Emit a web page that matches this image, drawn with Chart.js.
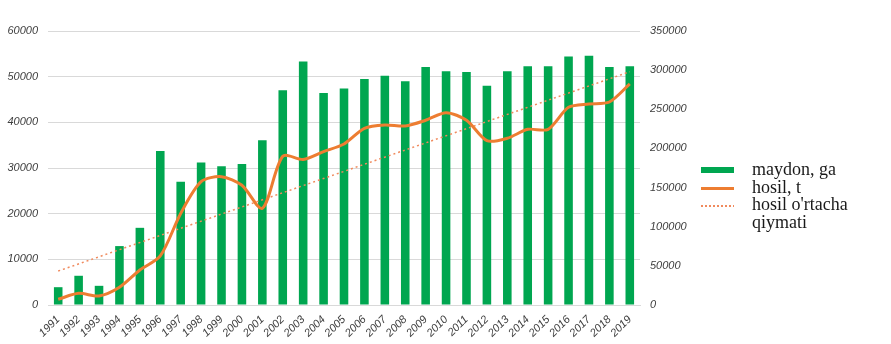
<!DOCTYPE html>
<html>
<head>
<meta charset="utf-8">
<script src="https://cdn.jsdelivr.net/npm/chart.js@4"></script>
<style>
  html, body { margin: 0; padding: 0; background: #fff; }
  #wrap { position: relative; width: 891px; height: 344px; }
  #legend { position: absolute; left: 701px; top: 161px; font-family: "Liberation Serif", serif; font-size: 18px; line-height: 17.5px; color: #1a1a1a; }
  .item { position: relative; padding-left: 51px; }
  .sw { position: absolute; left: 0; width: 33px; }
</style>
</head>
<body>
<div id="wrap">
  <canvas id="chart" width="891" height="344"></canvas>
  <div id="legend">
    <div class="item"><span class="sw" style="top:6px;height:6px;background:#00A650"></span>maydon, ga</div>
    <div class="item"><span class="sw" style="top:8px;height:3px;background:#ED7D31"></span>hosil, t</div>
    <div class="item"><span class="sw" style="top:9px;height:2px;background:repeating-linear-gradient(90deg,#F08A5D 0 2px,transparent 2px 4px)"></span>hosil o'rtacha<br>qiymati</div>
  </div>
</div>
<script>
const years = ["1991","1992","1993","1994","1995","1996","1997","1998","1999","2000",
  "2001","2002","2003","2004","2005","2006","2007","2008","2009","2010",
  "2011","2012","2013","2014","2015","2016","2017","2018","2019"];

// maydon, ga (left axis)
const maydon = [3900, 6400, 4200, 12900, 16900, 33700, 27000, 31200, 30400, 30900,
  36100, 47000, 53300, 46400, 47400, 49500, 50200, 49000, 52100, 51200,
  51000, 48000, 51200, 52300, 52300, 54400, 54600, 52100, 52300];

// hosil, t (right axis)
const hosil = [7300, 14900, 11500, 22600, 44700, 62600, 117000, 157500, 163900, 153000,
  123500, 190000, 186000, 196000, 205700, 225700, 230000, 228700, 236000, 245600,
  236000, 209900, 213000, 224400, 224400, 252500, 256800, 259300, 282300];

// trend line endpoints (1991 and 2019)
const trend = [43400, null, null, null, null, null, null, null, null, null,
  null, null, null, null, null, null, null, null, null, null,
  null, null, null, null, null, null, null, null, 298000];

const leftTicks = { min: 0, max: 60000, step: 10000 };
const rightTicks = { min: 0, max: 350000, step: 50000 };

const tickFont = { family: "Liberation Sans", size: 11, style: "italic" };

new Chart(document.getElementById("chart"), {
  type: "bar",
  data: {
    labels: years,
    datasets: [
      {
        label: "hosil, t",
        type: "line",
        data: hosil,
        yAxisID: "y1",
        borderColor: "#ED7D31",
        borderWidth: 3,
        pointRadius: 0,
        tension: 0.28,
        order: 1
      },
      {
        label: "hosil o'rtacha qiymati",
        type: "line",
        data: trend,
        yAxisID: "y1",
        spanGaps: true,
        borderColor: "#F08A5D",
        borderWidth: 1.5,
        borderDash: [2, 3],
        pointRadius: 0,
        order: 2
      },
      {
        label: "maydon, ga",
        data: maydon,
        yAxisID: "y",
        backgroundColor: "#00A650",
        categoryPercentage: 1,
        barPercentage: 0.42,
        order: 3
      }
    ]
  },
  options: {
    responsive: false,
    animation: false,
    layout: { padding: { top: 31, left: 0, right: 0, bottom: 0 } },
    plugins: { legend: { display: false }, tooltip: { enabled: false } },
    scales: {
      x: {
        grid: { display: false },
        border: { color: "#d9d9d9" },
        ticks: { color: "#404040", font: tickFont, minRotation: 45, maxRotation: 45, autoSkip: false, padding: 0 },
        afterFit: (s) => { s.height = 39; }
      },
      y: {
        position: "left",
        min: leftTicks.min,
        max: leftTicks.max,
        ticks: { stepSize: leftTicks.step, color: "#404040", font: tickFont, padding: 10, callback: (v) => String(v) },
        grid: { color: "#d9d9d9", drawTicks: false },
        border: { display: false },
        afterFit: (s) => { s.width = 48; }
      },
      y1: {
        position: "right",
        min: rightTicks.min,
        max: rightTicks.max,
        ticks: { stepSize: rightTicks.step, color: "#404040", font: tickFont, padding: 10, callback: (v) => String(v) },
        grid: { drawOnChartArea: false, drawTicks: false },
        border: { display: false },
        afterFit: (s) => { s.width = 251; }
      }
    }
  }
});
</script>
</body>
</html>
